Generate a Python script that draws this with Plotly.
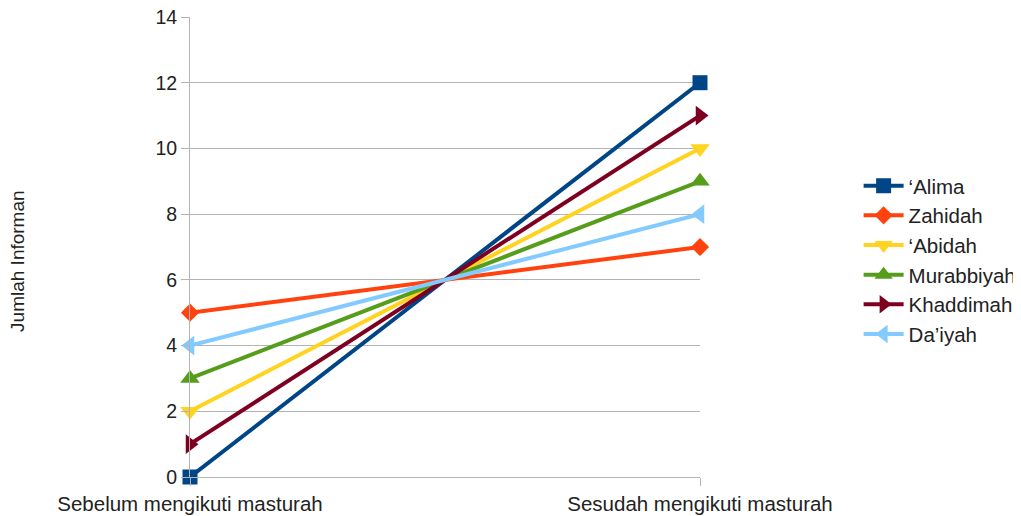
import plotly.graph_objects as go

categories = ["Sebelum mengikuti masturah", "Sesudah mengikuti masturah"]
series_names = ["\u2018Alima", "Zahidah", "\u2018Abidah", "Murabbiyah", "Khaddimah", "Da\u2019iyah"]
alima = [0, 12]
zahidah = [5, 7]
abidah = [2, 10]
murabbiyah = [3, 9]
khaddimah = [1, 11]
daiyah = [4, 8]
y_ticks = [0, 2, 4, 6, 8, 10, 12, 14]

series_values = [alima, zahidah, abidah, murabbiyah, khaddimah, daiyah]
colors = ["#004586", "#ff420e", "#ffd320", "#579d1c", "#7e0021", "#83caff"]
symbols = ["square", "diamond", "triangle-down", "triangle-up", "triangle-right", "triangle-left"]
sizes = [15, 14, 17, 17, 17, 17]

xpos = list(range(len(categories)))

fig = go.Figure()
for name, vals, c, s, sz in zip(series_names, series_values, colors, symbols, sizes):
    fig.add_trace(go.Scatter(
        x=xpos, y=vals, name=name, mode="lines+markers",
        line=dict(color=c, width=4),
        marker=dict(symbol=s, size=sz, color=c),
        cliponaxis=False,
    ))

font = "Liberation Sans, Arial, sans-serif"
fig.update_layout(
    width=1013, height=508,
    margin=dict(l=182, r=321, t=9, b=39, autoexpand=False),
    plot_bgcolor="white", paper_bgcolor="white",
    font=dict(family=font, size=20, color="#222222"),
    showlegend=True,
    legend=dict(x=1.311, y=0.472, xanchor="left", yanchor="middle",
                font=dict(size=20.5, color="#222222"), tracegroupgap=0,
                itemwidth=40, bgcolor="rgba(0,0,0,0)"),
    xaxis=dict(range=[0, 1], tickmode="array", tickvals=xpos, ticktext=categories,
               showgrid=True, gridcolor="#b3b3b3", gridwidth=1,
               ticks="outside", ticklen=8, tickcolor="#b3b3b3",
               showline=True, linecolor="#b3b3b3", zeroline=False,
               automargin=False, ticklabeloverflow="allow", tickfont=dict(size=20.5)),
    yaxis=dict(range=[0, 14], tickmode="array", tickvals=y_ticks,
               showgrid=True, gridcolor="#b3b3b3", gridwidth=1,
               ticks="outside", ticklen=8, tickcolor="#b3b3b3",
               showline=True, linecolor="#b3b3b3", zeroline=False,
               automargin=False, ticklabeloverflow="allow", tickfont=dict(size=19.5)),
    annotations=[dict(text="Jumlah Informan", xref="paper", yref="paper",
                      x=-0.337, y=0.47, xanchor="center", yanchor="middle",
                      textangle=-90, showarrow=False, font=dict(size=19))],
)
fig.write_html("out.html")
